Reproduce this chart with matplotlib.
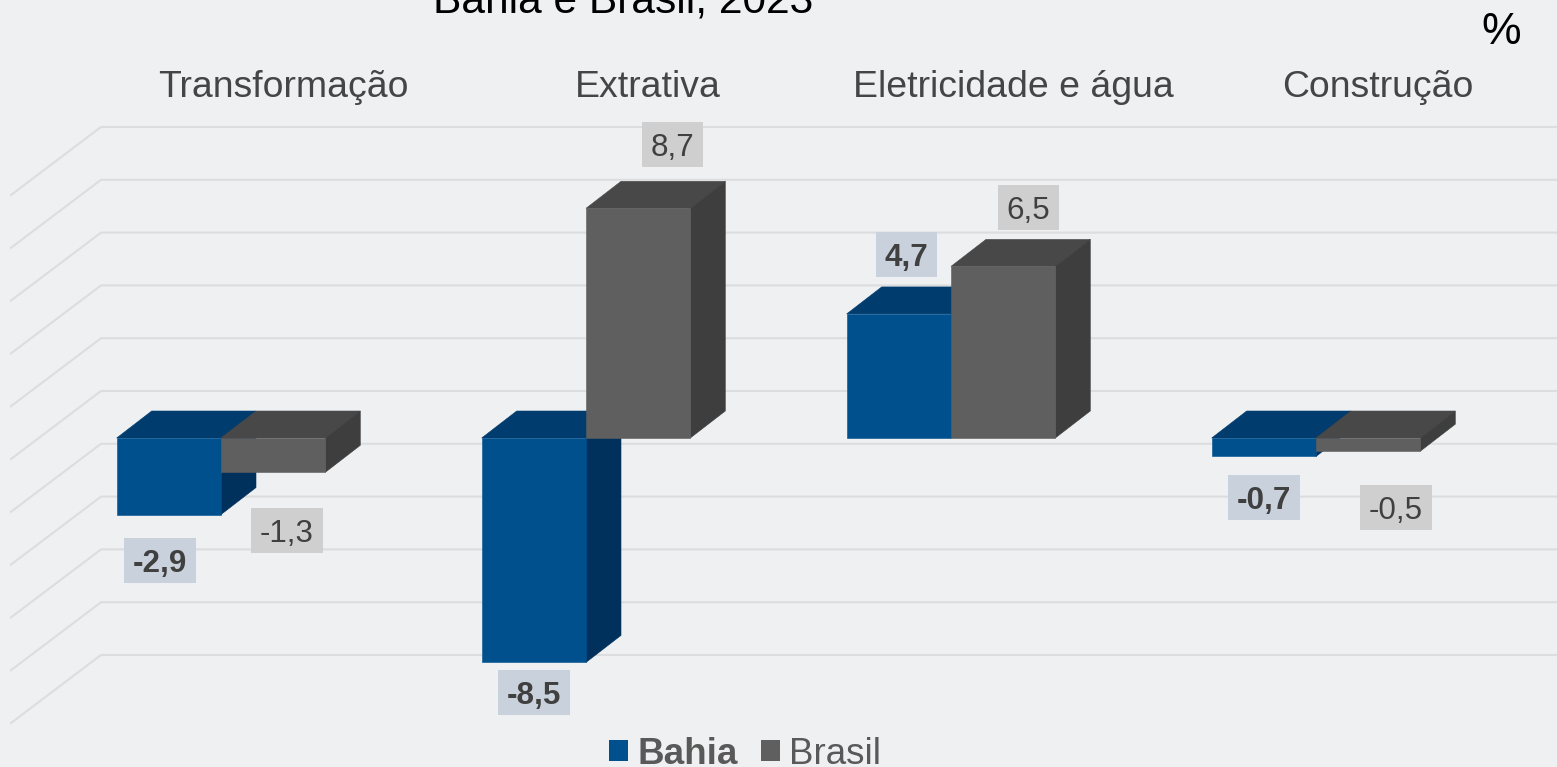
import matplotlib
matplotlib.use('Agg')
import matplotlib.pyplot as plt
from matplotlib.patches import Patch, Polygon, Rectangle

plt.rcParams['font.family'] = ['Liberation Sans', 'DejaVu Sans']

categories = ['Transformação', 'Extrativa', 'Eletricidade e água', 'Construção']
bahia = [-2.9, -8.5, 4.7, -0.7]
brasil = [-1.3, 8.7, 6.5, -0.5]
grid_values = [10, 8, 6, 4, 2, 0, -2, -4, -6, -8, -10]

# deslocamento de cada rótulo em relação ao fim da barra (px)
bahia_offsets = [(-9, -45.5), (0.5, -30.5), (7.5, 59.5), (0, -41)]
brasil_offsets = [(13.5, -58.5), (34.5, 63.5), (25.5, 58.5), (28, -56.5)]

W, H = 1557, 767
PX_X = 365.0   # px por categoria
PX_Y = 26.4    # px por unidade
X0, Y0 = 221, 438

BG = '#eff0f2'
BLUE = ('#00508e', '#003c6e', '#00305c')
GRAY = ('#5f5f5f', '#484848', '#3e3e3e')
bar_w = 104.3 / PX_X
dx3d = 35 / PX_X
dy3d = 27 / PX_Y

fig = plt.figure(figsize=(W / 100, H / 100), dpi=100, facecolor=BG)
ax = fig.add_axes([0, 0, 1, 1])
ax.set_xlim(-X0 / PX_X, (W - X0) / PX_X)
ax.set_ylim((Y0 - H) / PX_Y, Y0 / PX_Y)
ax.axis('off')


def fx(px):
    return (px - X0) / PX_X


# grade com a parede lateral em perspectiva
for v in grid_values:
    front = v - 21 / PX_Y
    back = v + 47 / PX_Y
    ax.plot([fx(11), fx(101), fx(W)], [front, back, back], color='#dcddde', lw=1.5,
            solid_joinstyle='miter', zorder=1)


def draw_bars(values, left_shift, colors, z):
    for i, v in enumerate(values):
        x = i + left_shift
        top = max(v, 0)
        ax.add_patch(Polygon([(x, top), (x + dx3d, top + dy3d), (x + bar_w + dx3d, top + dy3d),
                              (x + bar_w, top)], color=colors[1], lw=0.4, zorder=z))
        ax.add_patch(Polygon([(x + bar_w, 0), (x + bar_w + dx3d, dy3d), (x + bar_w + dx3d, v + dy3d),
                              (x + bar_w, v)], color=colors[2], lw=0.4, zorder=z + 0.1))
        ax.bar(x, v, width=bar_w, align='edge', color=colors[0], edgecolor=colors[0], lw=0.4, zorder=z + 0.2)


draw_bars(bahia, -bar_w, BLUE, 2)
draw_bars(brasil, 0, GRAY, 3)


def draw_labels(values, offsets, left_shift, box_color, weight, z=5):
    for i, v in enumerate(values):
        s = f'{v:.1f}'.replace('.', ',')
        cx = i + left_shift + bar_w / 2 + offsets[i][0] / PX_X
        cy = v + offsets[i][1] / PX_Y
        bw = (72 if v < 0 else 61.5) / PX_X
        bh = 45 / PX_Y
        ax.add_patch(Rectangle((cx - bw / 2, cy - bh / 2), bw, bh, color=box_color, lw=0, zorder=z))
        ax.text(cx, cy, s, ha='center', va='center_baseline', fontsize=22.6, fontweight=weight,
                color='#404040', zorder=z + 1)


draw_labels(bahia, bahia_offsets, -bar_w, '#c9d2dc', 'bold')
draw_labels(brasil, brasil_offsets, 0, '#cfcfd0', 'normal')

for i, c in enumerate(categories):
    ax.text(i + 62 / PX_X, (Y0 - 97) / PX_Y, c, ha='center', va='baseline', fontsize=26.9, color='#454545')

fig.text(623 / W, 1 - 12 / H, 'Bahia e Brasil, 2023', ha='center', va='baseline', fontsize=30.6, color='black')
fig.text(1501 / W, 1 - 44 / H, '%', ha='center', va='baseline', fontsize=32, color='black')

leg = ax.legend(handles=[Patch(color=BLUE[0], lw=0, label='Bahia'), Patch(color=GRAY[0], lw=0, label='Brasil')],
                ncol=2, frameon=False, fontsize=26.5, loc='lower left', bbox_to_anchor=(609 / W, -0.006),
                borderpad=0, borderaxespad=0, handlelength=0.52, handleheight=0.52,
                handletextpad=0.25, columnspacing=0.63, labelcolor='#595959')
leg.get_texts()[0].set_fontweight('bold')

fig.savefig('out.png', dpi=100, facecolor=BG)
